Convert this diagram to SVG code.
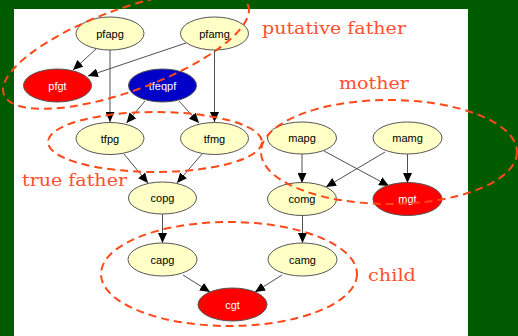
<svg xmlns="http://www.w3.org/2000/svg" width="518" height="336" viewBox="0 0 518 336">
<defs>
<marker id="ah" markerUnits="userSpaceOnUse" markerWidth="11" markerHeight="9" refX="10" refY="4.5" orient="auto">
<path d="M0,0 L10,4.5 L0,9 z" fill="#000"/>
</marker>
<style>
.n ellipse{stroke:#555;stroke-width:1}
.y ellipse{fill:#ffffc6}
.r ellipse{fill:#ff0000}
.b ellipse{fill:#0000c6}
.n text{font-family:"Liberation Sans",Arial,sans-serif;font-size:11px;text-anchor:middle}
.y text{fill:#000}
.r text,.b text{fill:#fff}
#edges line{stroke:#505050;stroke-width:1;marker-end:url(#ah)}
.grp{fill:none;stroke:#ff4818;stroke-width:2;stroke-dasharray:8 5}
.lbl{font-family:"DejaVu Serif","Liberation Serif",serif;font-size:17px;fill:#ff5030}
</style>
</defs>
<rect x="0" y="0" width="518" height="336" fill="#005a00"/>
<rect x="14" y="9" width="454" height="327" fill="#fff"/>
<g id="edges">
<line x1="96" y1="49" x2="73" y2="70"/>
<line x1="110" y1="50" x2="110" y2="122"/>
<line x1="186" y1="43" x2="88" y2="76"/>
<line x1="214.5" y1="50" x2="214.5" y2="122"/>
<line x1="145" y1="101" x2="126.5" y2="123"/>
<line x1="179" y1="101" x2="199" y2="123"/>
<line x1="124" y1="154" x2="148" y2="183"/>
<line x1="202" y1="154" x2="177" y2="183"/>
<line x1="162.5" y1="214" x2="162.5" y2="243"/>
<line x1="302" y1="154" x2="302" y2="183"/>
<line x1="324" y1="151" x2="389" y2="186"/>
<line x1="385" y1="152" x2="326" y2="187"/>
<line x1="407.5" y1="154" x2="407.5" y2="183"/>
<line x1="302.5" y1="215" x2="302.5" y2="243"/>
<line x1="183" y1="275" x2="210" y2="292"/>
<line x1="282" y1="275" x2="255" y2="292"/>
</g>
<g id="pfapg" class="n y"><ellipse cx="110" cy="33.5" rx="34" ry="16.5"/><text x="110" y="37.5">pfapg</text></g>
<g id="pfamg" class="n y"><ellipse cx="214.5" cy="33.5" rx="34" ry="16.5"/><text x="214.5" y="37.5">pfamg</text></g>
<g id="pfgt" class="n r"><ellipse cx="57.5" cy="85.5" rx="34" ry="16.5"/><text x="57.5" y="89.5">pfgt</text></g>
<g id="tfeqpf" class="n b"><ellipse cx="162.5" cy="85.5" rx="34" ry="16.5"/><text x="162.5" y="89.5">tfeqpf</text></g>
<g id="tfpg" class="n y"><ellipse cx="110" cy="138.5" rx="34" ry="16"/><text x="110" y="142.5">tfpg</text></g>
<g id="tfmg" class="n y"><ellipse cx="214.5" cy="138.5" rx="34" ry="16"/><text x="214.5" y="142.5">tfmg</text></g>
<g id="copg" class="n y"><ellipse cx="162.5" cy="198" rx="34" ry="16"/><text x="162.5" y="202">copg</text></g>
<g id="mapg" class="n y"><ellipse cx="302" cy="138" rx="34.5" ry="16"/><text x="302" y="142">mapg</text></g>
<g id="mamg" class="n y"><ellipse cx="407.5" cy="138" rx="34.5" ry="16"/><text x="407.5" y="142">mamg</text></g>
<g id="comg" class="n y"><ellipse cx="302" cy="199" rx="34.5" ry="16.5"/><text x="302" y="203">comg</text></g>
<g id="mgt" class="n r"><ellipse cx="407.5" cy="199" rx="34.5" ry="16.5"/><text x="407.5" y="203">mgt</text></g>
<g id="capg" class="n y"><ellipse cx="162.5" cy="259.5" rx="34.5" ry="16.5"/><text x="162.5" y="263.5">capg</text></g>
<g id="camg" class="n y"><ellipse cx="302.5" cy="259.5" rx="34.5" ry="16.5"/><text x="302.5" y="263.5">camg</text></g>
<g id="cgt" class="n r"><ellipse cx="232.5" cy="304.5" rx="34.5" ry="16.5"/><text x="232.5" y="308.5">cgt</text></g>
<g id="groups">
<ellipse class="grp" cx="126" cy="50" rx="130" ry="41" transform="rotate(-20 126 50)"/>
<ellipse class="grp" cx="155" cy="142" rx="107" ry="30"/>
<ellipse class="grp" cx="389" cy="152" rx="128" ry="52"/>
<ellipse class="grp" cx="229" cy="274" rx="128" ry="52"/>
<text class="lbl" x="262" y="34" textLength="144" lengthAdjust="spacingAndGlyphs">putative father</text>
<text class="lbl" x="339" y="89" textLength="70" lengthAdjust="spacingAndGlyphs">mother</text>
<text class="lbl" x="22" y="186" textLength="105" lengthAdjust="spacingAndGlyphs">true father</text>
<text class="lbl" x="368" y="281" textLength="48" lengthAdjust="spacingAndGlyphs">child</text>
</g>
</svg>
